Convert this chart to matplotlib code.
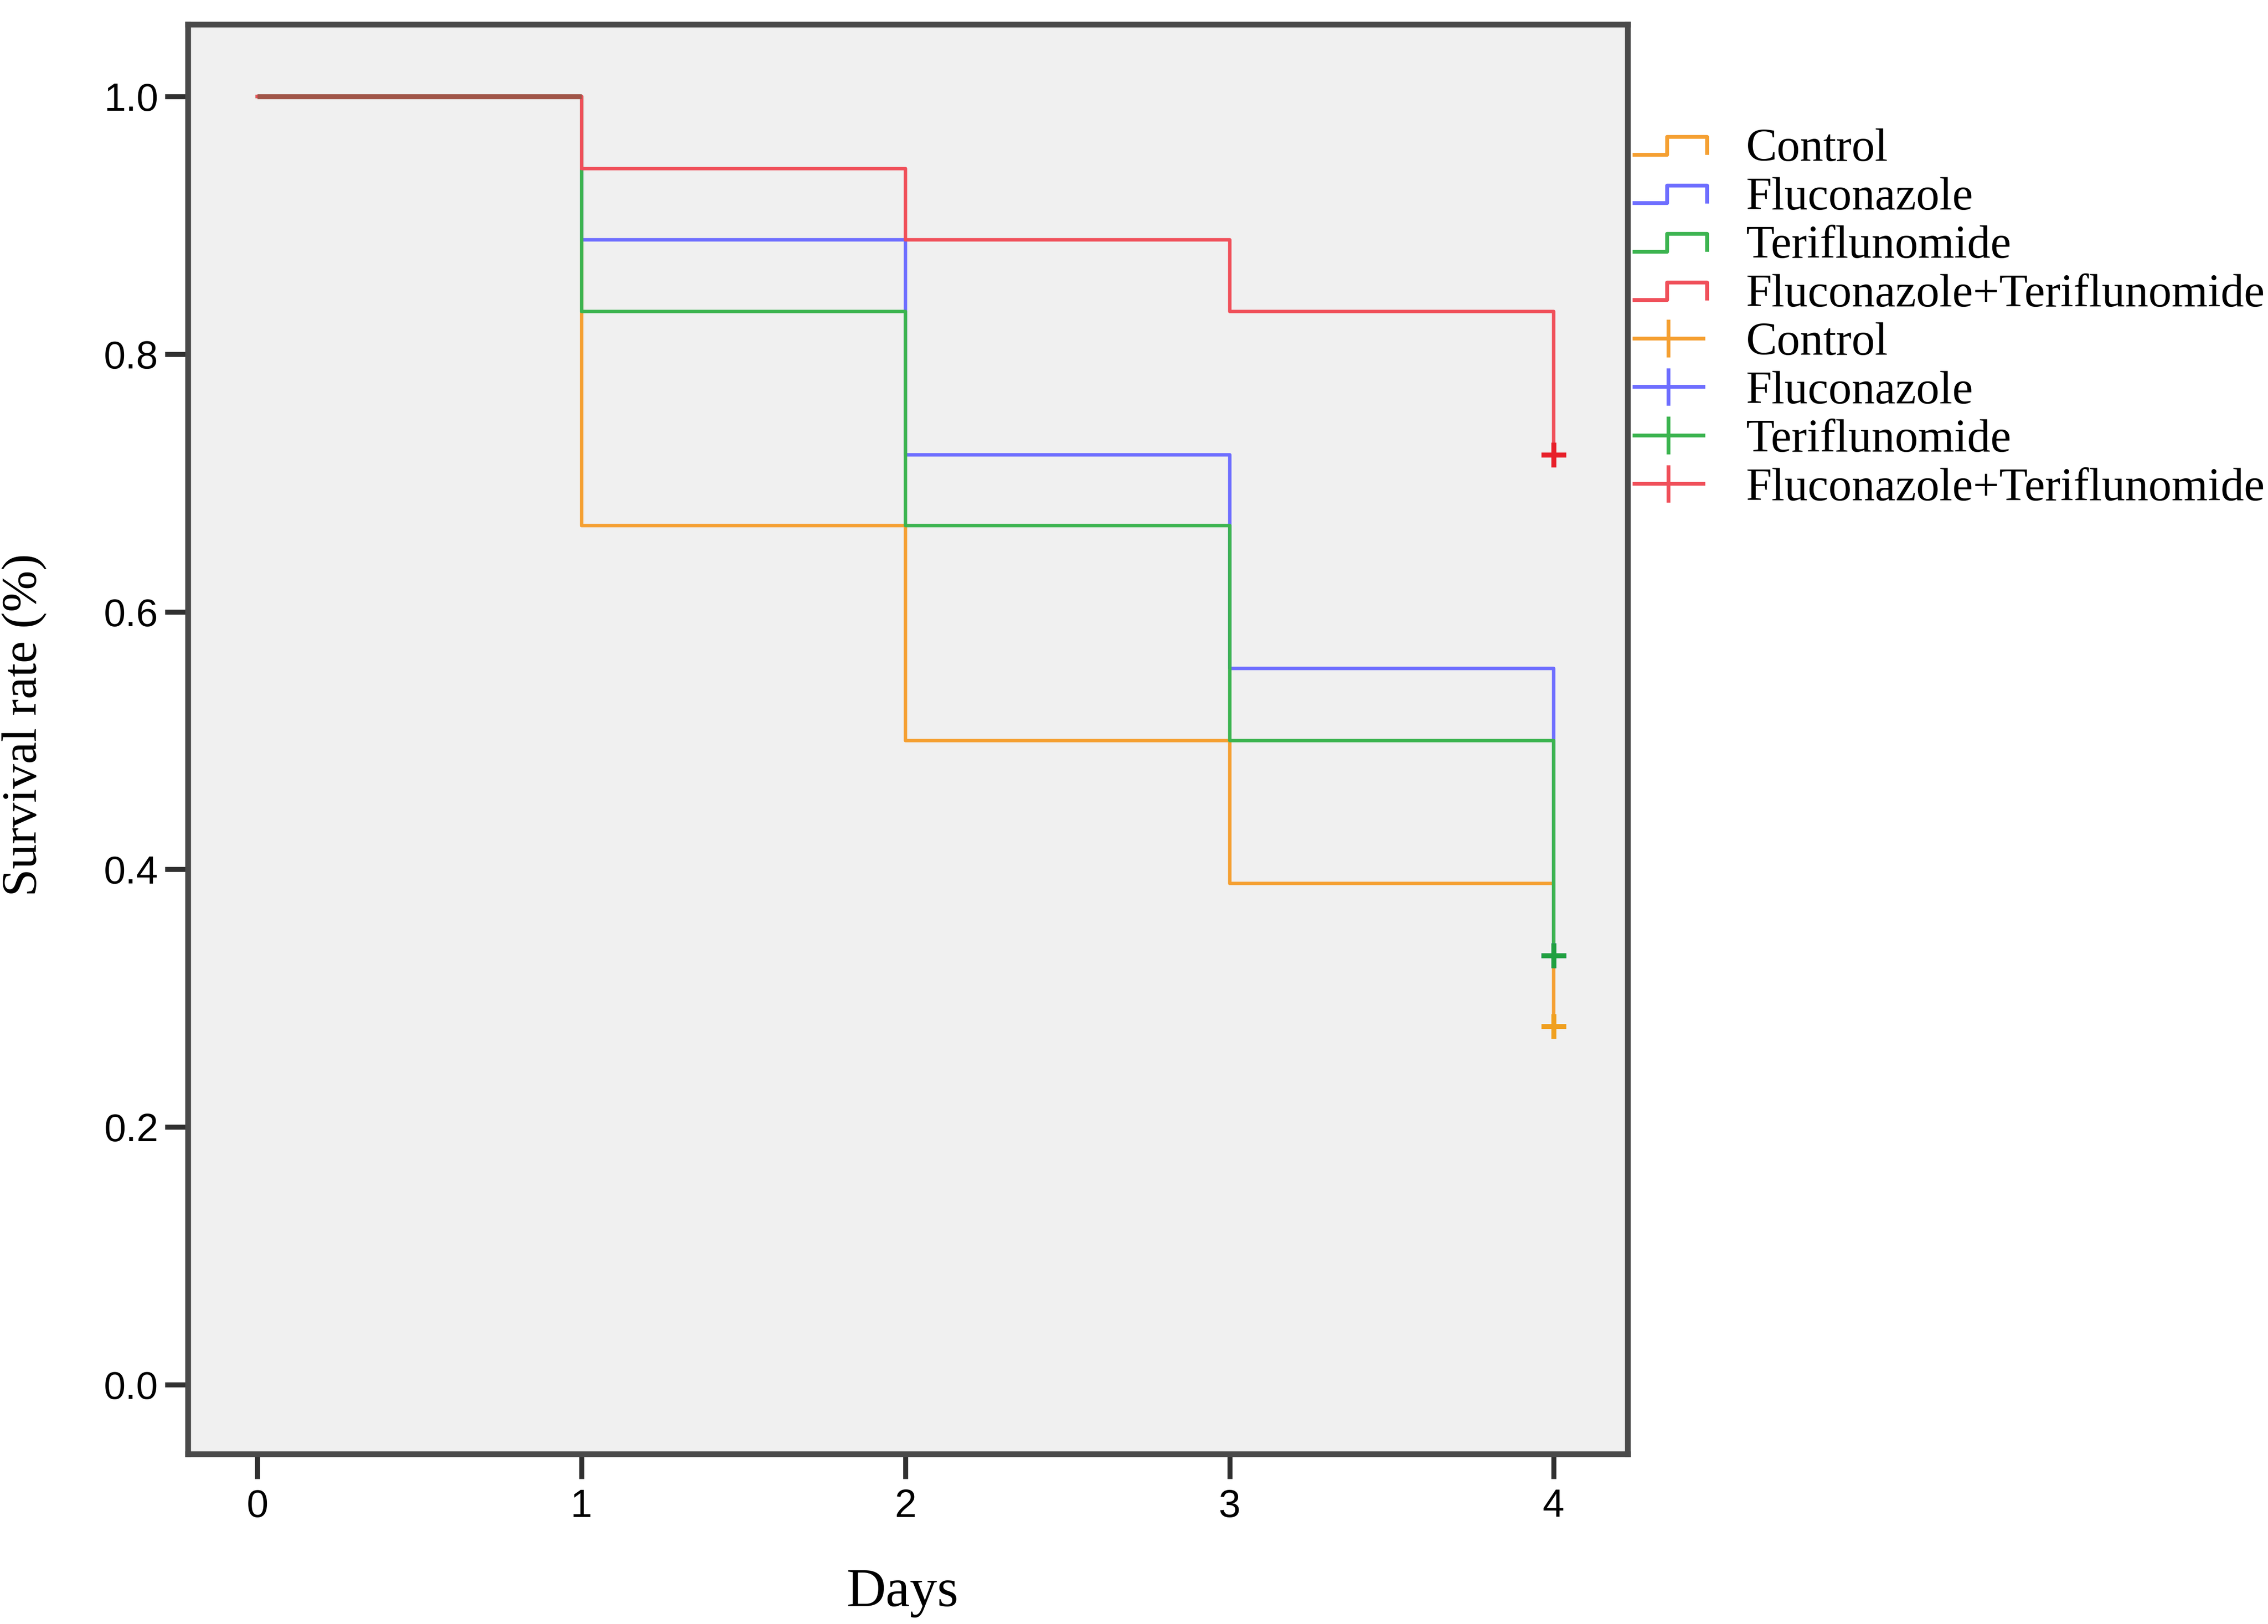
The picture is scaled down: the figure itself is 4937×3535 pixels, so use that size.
import matplotlib
matplotlib.use("Agg")
import matplotlib.pyplot as plt
from matplotlib.legend_handler import HandlerBase
from matplotlib.lines import Line2D

days = [0, 1, 2, 3, 4]
groups = ["Control", "Fluconazole", "Teriflunomide", "Fluconazole+Teriflunomide"]
# survival fraction at each day (18 animals per group)
control = [1.0, 0.667, 0.500, 0.389, 0.278]
fluconazole = [1.0, 0.889, 0.722, 0.556, 0.333]
teriflunomide = [1.0, 0.833, 0.667, 0.500, 0.333]
combination = [1.0, 0.944, 0.889, 0.833, 0.722]
y_ticks = [0.0, 0.2, 0.4, 0.6, 0.8, 1.0]

line_colors = ["#F5A032", "#6E6EFF", "#3CB450", "#F0505A"]
mark_colors = ["#F0A020", "#5050F0", "#20A040", "#E8202A"]
shared_color = "#A05548"  # where all curves overlap

SERIF = "Liberation Serif"
SANS = "Liberation Sans"


class StepHandler(HandlerBase):
    def create_artists(self, legend, orig_handle, xdescent, ydescent,
                       width, height, fontsize, trans):
        x0 = -xdescent
        y0 = -ydescent
        lo = y0 + 0.19 * height
        hi = y0 + 0.73 * height
        xs = [x0, x0 + 0.45 * width, x0 + 0.45 * width, x0 + width, x0 + width]
        ys = [lo, lo, hi, hi, lo + 0.05 * height]
        ln = Line2D(xs, ys, color=orig_handle.get_color(), lw=orig_handle.get_linewidth(),
                    transform=trans)
        return [ln]


class PlusHandler(HandlerBase):
    def create_artists(self, legend, orig_handle, xdescent, ydescent,
                       width, height, fontsize, trans):
        x0 = -xdescent
        y0 = -ydescent
        c = orig_handle.get_color()
        lw = orig_handle.get_linewidth()
        h = Line2D([x0, x0 + 0.95 * width], [y0 + 0.5 * height] * 2, color=c, lw=lw,
                   transform=trans)
        v = Line2D([x0 + 0.47 * width] * 2, [y0 - 0.02 * height, y0 + 1.02 * height],
                   color=c, lw=lw, transform=trans)
        return [h, v]


fig = plt.figure(figsize=(4937 / 300, 3535 / 300), dpi=300)
ax = fig.add_axes([0.0829, 0.1047, 0.7176 - 0.0829, 0.9849 - 0.1047])
ax.set_facecolor("#F0F0F0")

series = [control, fluconazole, teriflunomide, combination]
for vals, lc in zip(series, line_colors):
    ax.step(days, vals, where="post", color=lc, lw=1.8)

# stretch at the start that all groups share
k = 0
while k + 1 < len(days) and all(s[k + 1] == series[0][k + 1] for s in series):
    k += 1
ax.plot([days[0], days[k + 1]], [series[0][k], series[0][k]], color=shared_color,
        lw=2.6, solid_capstyle="butt")

for vals, mc in zip(series, mark_colors):
    ax.plot(days[-1], vals[-1], marker="+", color=mc, markersize=13, mew=2.6, ls="none")

ax.set_xlim(-0.214, 4.228)
ax.set_ylim(-0.054, 1.056)
ax.set_xticks(days)
ax.set_xticklabels([str(d) for d in days], fontfamily=SANS, fontsize=20.5)
ax.set_yticks(y_ticks)
ax.set_yticklabels([f"{t:.1f}" for t in y_ticks], fontfamily=SANS, fontsize=20.5)
ax.tick_params(axis="x", direction="out", length=13, width=2.6, color="#303030", pad=5)
ax.tick_params(axis="y", direction="out", length=12, width=2.6, color="#303030", pad=3.5)
for s in ax.spines.values():
    s.set_linewidth(3)
    s.set_color("#4A4A4A")

ax.set_xlabel("Days", fontfamily=SERIF, fontsize=28.5, va="top")
ax.xaxis.set_label_coords(0.4965, -0.080)
ax.set_ylabel("Survival rate (%)", fontfamily=SERIF, fontsize=26)
ax.yaxis.set_label_coords(-0.098, 0.51)

step_handles = [Line2D([], [], color=c, lw=2.0) for c in line_colors]
plus_handles = [Line2D([], [], color=c, lw=2.0, marker="|") for c in line_colors]
handler_map = {h: StepHandler() for h in step_handles}
handler_map.update({h: PlusHandler() for h in plus_handles})
fig.legend(step_handles + plus_handles, groups + groups, handler_map=handler_map,
           loc="upper left", bbox_to_anchor=(0.7207, 0.921), frameon=False,
           prop={"family": SERIF, "size": 24.3}, handlelength=1.555, handletextpad=0.84,
           labelspacing=0.125, borderpad=0, borderaxespad=0)

fig.savefig("out.png", dpi=300)
